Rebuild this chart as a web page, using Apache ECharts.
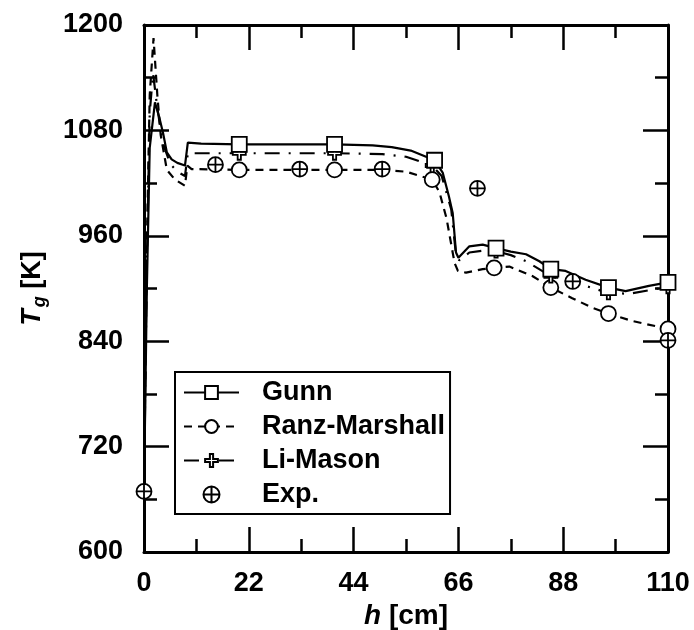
<!DOCTYPE html>
<html>
<head>
<meta charset="utf-8">
<script src="https://cdn.jsdelivr.net/npm/echarts@6/dist/echarts.min.js"></script>
<style>
  html, body { margin: 0; padding: 0; background: #fff; }
  #chart { width: 694px; height: 630px; }
</style>
</head>
<body>
<div id="chart"></div>
<script>
// axis ticks
const xTicks = [0, 22, 44, 66, 88, 110]
const yTicks = [600, 720, 840, 960, 1080, 1200]

// Gunn (solid, squares)
const gunnH = [0, 0.6, 1.2, 2.3, 3.2, 4.0, 4.8, 5.8, 7.0, 8.6, 9.2, 12, 20, 30, 40, 48, 52, 56, 61, 62.7, 64, 64.8, 65.5, 66, 68.3, 71.1, 73.9, 77, 80.2, 83, 85.4, 88.5, 92.7, 97.5, 101.1, 106, 110]
const gunnT = [669, 900, 1060, 1112, 1095, 1077, 1055, 1047, 1043, 1040, 1066, 1065, 1064, 1064, 1064, 1063, 1061, 1057, 1046, 1032, 1005, 986, 941, 935, 948, 950, 946, 942, 939, 931, 922, 920, 910, 901, 897, 903, 907]
const gunnMarks = [20, 40, 61, 73.9, 85.4, 97.5, 110]

// Ranz-Marshall (short dash, circles)
const ranzH = [0, 0.6, 1.2, 2.0, 2.8, 3.5, 4.8, 6.5, 8.6, 9.1, 10, 20, 30, 40, 50, 55, 60.5, 62, 63.5, 65.2, 65.9, 67.6, 71.1, 73.5, 76.7, 81.6, 85.4, 89.9, 94.1, 97.5, 102.5, 110]
const ranzT = [669, 950, 1120, 1185, 1120, 1075, 1035, 1024, 1017, 1040, 1036, 1035, 1035, 1035, 1035, 1033, 1024, 1010, 980, 929, 920, 918, 922, 923.5, 925, 914, 901, 889, 878, 871.5, 863, 854]
const ranzMarks = [20, 40, 60.5, 73.5, 85.4, 97.5, 110]

// Li-Mason (dash-dot, plus)
const liH = [0, 0.6, 1.2, 1.9, 2.8, 4.0, 5.5, 7.0, 8.6, 9.2, 12, 20, 30, 40, 50, 55, 60.5, 62.5, 64.5, 65.5, 66.2, 68.3, 71, 73.9, 77, 80.2, 85.4, 92.7, 97.5, 102, 106, 110]
const liT = [669, 930, 1100, 1145, 1105, 1065, 1042, 1033, 1028, 1054, 1054, 1054, 1054, 1054, 1053, 1050, 1040, 1028, 990, 938, 932, 941, 943, 942.5, 938, 931, 914, 903, 895, 894, 898, 902]
const liMarks = [20, 40, 60.5, 73.9, 85.4, 97.5, 110]

// Exp.
const expH = [0, 15, 32.7, 50, 70, 90, 110]
const expT = [669, 1041, 1036, 1036, 1014, 908, 841]

const FONT = 'Liberation Sans, Arial, sans-serif'
const FS = 27
const zip = (a, b) => a.map((v, i) => [v, b[i]])

const plusPath = 'path://M-1,-4 L1,-4 L1,-1 L4,-1 L4,1 L1,1 L1,4 L-1,4 L-1,1 L-4,1 L-4,-1 L-1,-1 Z'
const oplusPath = 'path://M0,-10 A10,10 0 1,1 0,10 A10,10 0 1,1 0,-10 Z M-10,0 L10,0 M0,-10 L0,10'

const markStyle = { color: '#fff', borderColor: '#000', borderWidth: 1.8, opacity: 1 }

const chart = echarts.init(document.getElementById('chart'))

const xAxisBase = {
    type: 'value',
    min: xTicks[0],
    max: xTicks[xTicks.length - 1],
    interval: 22,
    axisLine: { show: true, onZero: false, lineStyle: { color: '#000', width: 3 } },
    axisTick: { show: true, inside: true, length: 25, lineStyle: { color: '#000', width: 2.5 } },
    minorTick: { show: true, splitNumber: 2, length: 13, lineStyle: { color: '#000', width: 2.5 } },
    splitLine: { show: false }
}
const yAxisBase = {
    type: 'value',
    min: yTicks[0],
    max: yTicks[yTicks.length - 1],
    interval: 120,
    axisLine: { show: true, onZero: false, lineStyle: { color: '#000', width: 3 } },
    axisTick: { show: true, inside: true, length: 25, lineStyle: { color: '#000', width: 2.5 } },
    minorTick: { show: true, splitNumber: 2, length: 13, lineStyle: { color: '#000', width: 2.5 } },
    splitLine: { show: false }
}

const option = {
    backgroundColor: '#fff',
    animation: false,
    grid: { left: 144, right: 26, top: 25, bottom: 78, containLabel: false, outerBoundsMode: 'none' },
    legend: {
        orient: 'vertical',
        left: 175,
        top: 372,
        padding: [7, 5, 6, 8],
        itemGap: 7,
        itemWidth: 55,
        itemHeight: 16,
        borderColor: '#000',
        borderWidth: 2,
        backgroundColor: '#fff',
        textStyle: { fontFamily: FONT, fontSize: FS, fontWeight: 'bold', color: '#000', padding: [0, 0, 0, 18] },
        data: ['Gunn', 'Ranz-Marshall', 'Li-Mason', 'Exp.']
    },
    xAxis: [
        Object.assign({}, xAxisBase, {
            position: 'bottom',
            name: '{i|h} [cm]',
            nameLocation: 'middle',
            nameGap: 46,
            nameTextStyle: {
                fontFamily: FONT, fontSize: 28, fontWeight: 'bold', color: '#000',
                rich: { i: { fontFamily: FONT, fontSize: 28, fontWeight: 'bold', fontStyle: 'italic', color: '#000' } }
            },
            axisLabel: { fontFamily: FONT, fontSize: FS, fontWeight: 'bold', color: '#000', margin: 18, formatter: v => String(v) }
        }),
        Object.assign({}, xAxisBase, { position: 'top', axisLabel: { show: false } })
    ],
    yAxis: [
        Object.assign({}, yAxisBase, {
            position: 'left',
            name: '{t|T}{g|g} [K]',
            nameLocation: 'middle',
            nameRotate: 90,
            nameGap: 96,
            nameTextStyle: {
                fontFamily: FONT, fontSize: FS, fontWeight: 'bold', color: '#000',
                rich: {
                    t: { fontFamily: FONT, fontSize: FS, fontWeight: 'bold', fontStyle: 'italic', color: '#000', lineHeight: 30 },
                    g: { fontFamily: FONT, fontSize: 18, fontWeight: 'bold', fontStyle: 'italic', color: '#000', lineHeight: 18, padding: [14, 0, 0, 2] }
                }
            },
            axisLabel: { fontFamily: FONT, fontSize: FS, fontWeight: 'bold', color: '#000', margin: 21, formatter: v => String(v) }
        }),
        Object.assign({}, yAxisBase, { position: 'right', axisLabel: { show: false } })
    ],
    series: [
        {
            name: 'Gunn',
            type: 'line',
            data: zip(gunnH, gunnT),
            symbol: 'rect',
            symbolSize: v => gunnMarks.includes(v[0]) ? 15 : 0,
            showAllSymbol: true,
            lineStyle: { color: '#000', width: 2.2, type: 'solid' },
            itemStyle: markStyle,
            z: 3
        },
        {
            name: 'Ranz-Marshall',
            type: 'line',
            data: zip(ranzH, ranzT),
            symbol: 'circle',
            symbolSize: v => ranzMarks.includes(v[0]) ? 15 : 0,
            showAllSymbol: true,
            lineStyle: { color: '#000', width: 2.2, type: [8, 6] },
            itemStyle: markStyle,
            z: 2
        },
        {
            name: 'Li-Mason',
            type: 'line',
            data: zip(liH, liT),
            symbol: plusPath,
            symbolSize: v => liMarks.includes(v[0]) ? 13 : 0,
            showAllSymbol: true,
            lineStyle: { color: '#000', width: 2.2, type: [15, 9, 2, 9] },
            itemStyle: markStyle,
            z: 2
        },
        {
            name: 'Exp.',
            type: 'scatter',
            data: zip(expH, expT),
            symbol: oplusPath,
            symbolSize: 15,
            symbolKeepAspect: true,
            itemStyle: markStyle,
            z: 4
        }
    ]
}

chart.setOption(option)
</script>
</body>
</html>
